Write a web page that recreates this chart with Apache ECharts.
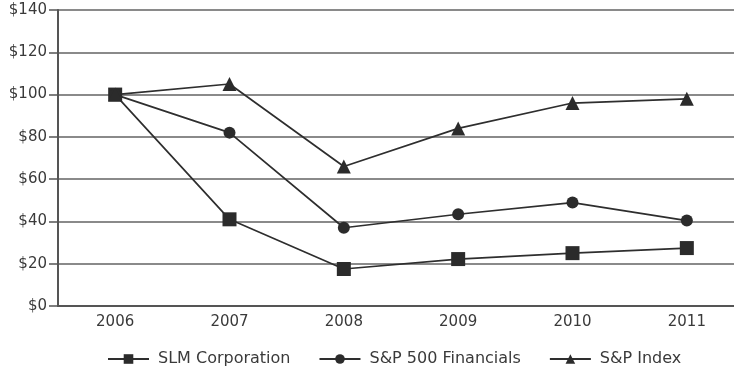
<!DOCTYPE html>
<html>
<head>
<meta charset="utf-8">
<style>
  html, body { margin: 0; padding: 0; background: #fff; }
  #chart { width: 734px; height: 372px; }
</style>
<script src="https://cdn.jsdelivr.net/npm/echarts@6/dist/echarts.min.js"></script>
</head>
<body>
<div id="chart"></div>
<script>
var years = ['2006', '2007', '2008', '2009', '2010', '2011'];
var slm = [100, 41, 17.5, 22.2, 25, 27.4];
var spFinancials = [100, 82, 37, 43.4, 48.9, 40.4];
var spIndex = [100, 105, 66, 84, 96, 98];

var chart = echarts.init(document.getElementById('chart'));
var txt = { color: '#3a3a3a', fontFamily: 'DejaVu Sans, sans-serif', fontSize: 15 };

function line(name, data, symbol, size) {
  return {
    name: name,
    type: 'line',
    data: data,
    symbol: symbol,
    symbolSize: size,
    lineStyle: { color: '#2e2e2e', width: 1.7 },
    itemStyle: { color: '#2b2b2b' },
    z: 3
  };
}

chart.setOption({
  animation: false,
  grid: { left: 58, top: 10, width: 686, height: 296, outerBoundsMode: 'none', containLabel: false },
  legend: {
    top: 346,
    left: 102,
    itemWidth: 41,
    itemHeight: 12,
    itemGap: 28,
    textStyle: { color: '#3a3a3a', fontFamily: 'DejaVu Sans, sans-serif', fontSize: 16, padding: [0, 0, 0, 4] },
    data: ['SLM Corporation', 'S&P 500 Financials', 'S&P Index']
  },
  xAxis: {
    type: 'category',
    data: years,
    boundaryGap: true,
    axisLine: { lineStyle: { color: '#555', width: 2 } },
    axisTick: { show: false },
    axisLabel: Object.assign({ margin: 9 }, txt)
  },
  yAxis: {
    type: 'value',
    min: 0,
    max: 140,
    interval: 20,
    axisLine: { show: true, lineStyle: { color: '#555', width: 2 } },
    axisTick: { show: true, inside: false, length: 9, lineStyle: { color: '#555', width: 1.5 } },
    axisLabel: Object.assign({ margin: 11, formatter: '${value}' }, txt),
    splitLine: { lineStyle: { color: '#8a8a8a', width: 2 } }
  },
  series: [
    line('SLM Corporation', slm, 'rect', 14),
    line('S&P 500 Financials', spFinancials, 'circle', 12),
    line('S&P Index', spIndex, 'triangle', 14)
  ]
});
</script>
</body>
</html>
